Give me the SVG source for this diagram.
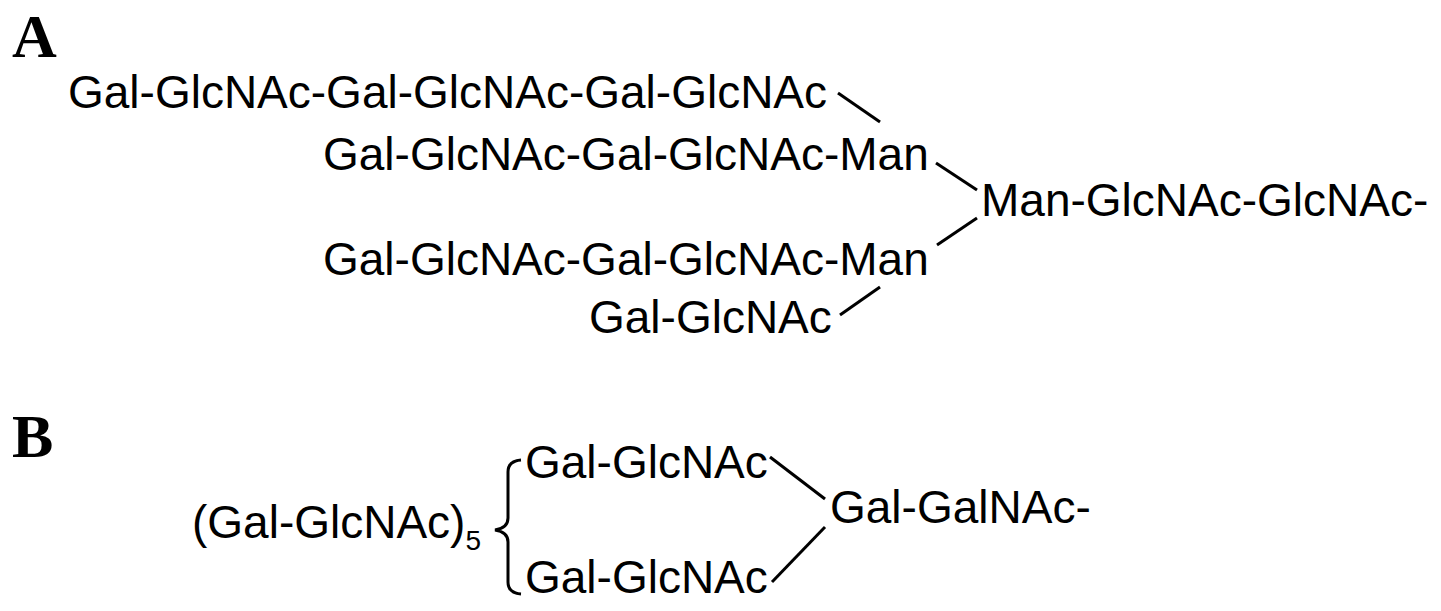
<svg xmlns="http://www.w3.org/2000/svg" width="1441" height="611" viewBox="0 0 1441 611">
<style>
.t{font-family:"Liberation Sans",Arial,sans-serif;font-size:46px;fill:#000}
.lbl{font-family:"Liberation Serif","Times New Roman",serif;font-size:62px;font-weight:bold;fill:#000}
.c{stroke:#000;stroke-width:3;fill:none;stroke-linecap:butt}
</style>
<rect width="1441" height="611" fill="#fff"/>
<text class="lbl" x="12" y="57">A</text>
<text class="lbl" x="12" y="457">B</text>
<g id="a1"><text class="t" x="68" y="108">Gal-GlcNAc-Gal-GlcNAc-Gal-GlcNAc</text></g>
<g id="a2"><text class="t" x="323" y="170">Gal-GlcNAc-Gal-GlcNAc-Man</text></g>
<g id="a3"><text class="t" x="981" y="216">Man-GlcNAc-GlcNAc-</text></g>
<g id="a4"><text class="t" x="323" y="275">Gal-GlcNAc-Gal-GlcNAc-Man</text></g>
<g id="a5"><text class="t" x="589" y="333">Gal-GlcNAc</text></g>
<g id="b1"><text class="t" x="192" y="538">(Gal-GlcNAc)<tspan font-size="28" dy="12">5</tspan></text></g>
<g id="b2"><text class="t" x="525" y="478">Gal-GlcNAc</text></g>
<g id="b3"><text class="t" x="525" y="593">Gal-GlcNAc</text></g>
<g id="b4"><text class="t" x="830" y="523">Gal-GalNAc-</text></g>
<g id="connectors">
<line class="c" x1="838" y1="93" x2="880" y2="122"/>
<line class="c" x1="936" y1="163" x2="977" y2="190"/>
<line class="c" x1="977" y1="218" x2="937" y2="245"/>
<line class="c" x1="880" y1="287" x2="840" y2="315"/>
<line class="c" x1="770" y1="457" x2="825" y2="499"/>
<line class="c" x1="825" y1="527" x2="772" y2="582"/>
<path class="c" stroke-width="2.5" d="M521 460 Q508 461 508 472 L508 518 Q508 528 495 530 Q508 532 508 542 L508 582 Q508 593 521 594"/>
</g>
</svg>
